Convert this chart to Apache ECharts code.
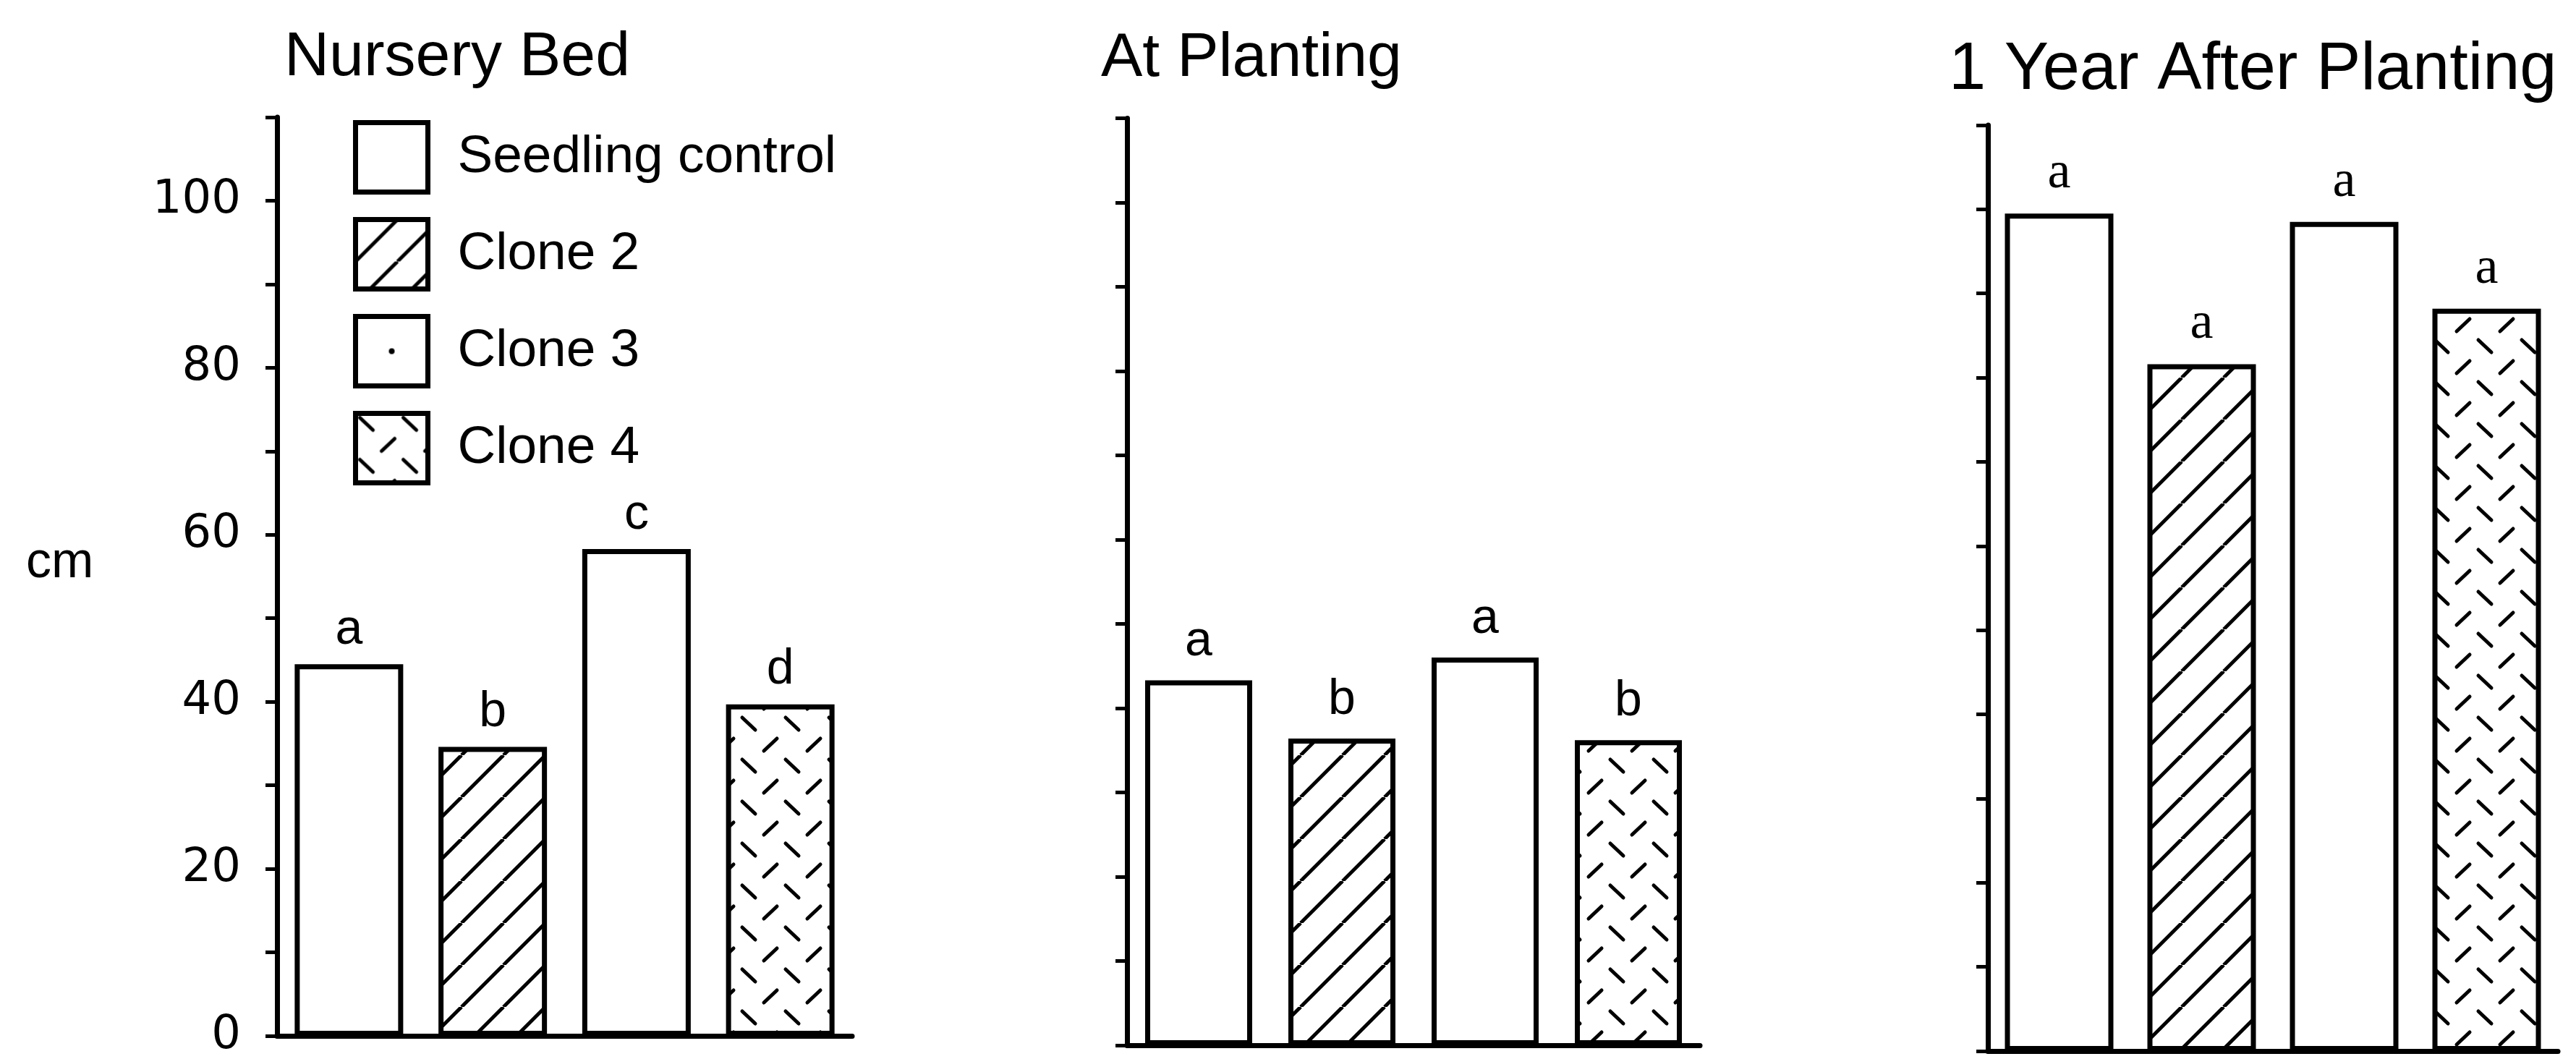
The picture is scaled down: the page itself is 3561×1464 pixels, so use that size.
<!DOCTYPE html>
<html>
<head>
<meta charset="utf-8">
<script src="https://cdn.jsdelivr.net/npm/echarts@6/dist/echarts.min.js"></script>
<style>
  html, body { margin: 0; padding: 0; background: #fff; }
  #chart { width: 3561px; height: 1464px; }
</style>
</head>
<body>
<div id="chart"></div>
<script>
// ---------------- data ----------------
const categories = ['Seedling control', 'Clone 2', 'Clone 3', 'Clone 4'];
const panelTitles = ['Nursery Bed', 'At Planting', '1 Year After Planting'];
const nurseryBed = [44.5, 34.6, 58.3, 39.7];
const atPlanting = [43.3, 36.4, 46.0, 36.2];
const oneYearAfter = [99.5, 81.6, 98.5, 88.2];
const lettersNursery = ['a', 'b', 'c', 'd'];
const lettersPlanting = ['a', 'b', 'a', 'b'];
const lettersYear = ['a', 'a', 'a', 'a'];
const yTickLabels = ['0', '20', '40', '60', '80', '100'];
const yAxisName = 'cm';
const yMin = 0, yMax = 110, yStep = 10;

// ---------------- patterns ----------------
function makeCanvas(w, h) {
  const c = document.createElement('canvas');
  c.width = w; c.height = h;
  const ctx = c.getContext('2d');
  ctx.fillStyle = '#fff';
  ctx.fillRect(0, 0, w, h);
  ctx.strokeStyle = '#000';
  ctx.fillStyle = '#000';
  return [c, ctx];
}
function hatchTile() {
  const s = 58;
  const [c, ctx] = makeCanvas(s, s);
  ctx.lineWidth = 5;
  for (const k of [-1, 0, 1]) {
    ctx.beginPath();
    ctx.moveTo(k * s, s);
    ctx.lineTo(k * s + s, 0);
    ctx.stroke();
  }
  return c;
}
function dashTile() {
  const w = 60, h = 58;
  const [c, ctx] = makeCanvas(w, h);
  ctx.lineWidth = 5;
  ctx.lineCap = 'round';
  ctx.beginPath();
  ctx.moveTo(6, 6); ctx.lineTo(24, 23);
  ctx.stroke();
  ctx.beginPath();
  ctx.moveTo(36, 52); ctx.lineTo(54, 35);
  ctx.stroke();
  return c;
}
function dotTile() {
  const [c, ctx] = makeCanvas(100, 96);
  ctx.beginPath();
  ctx.arc(50, 48, 4, 0, Math.PI * 2);
  ctx.fill();
  return c;
}
const fills = [
  '#ffffff',
  { image: hatchTile(), repeat: 'repeat' },
  '#ffffff',
  { image: dashTile(), repeat: 'repeat' }
];

// ---------------- layout ----------------
const grids = [
  { left: 383, right: 3561 - 1178, top: 162, bottom: 1464 - 1440 },
  { left: 1558, right: 3561 - 2350, top: 163.5, bottom: 1464 - 1445 },
  { left: 2748, right: 3561 - 3536, top: 173, bottom: 1464 - 1453 }
];
const barWidths = [150, 148, 150];
const panelValues = [nurseryBed, atPlanting, oneYearAfter];
const panelLetters = [lettersNursery, lettersPlanting, lettersYear];
const letterFonts = [
  { fontFamily: 'Liberation Sans', fontSize: 68, distance: 13 },
  { fontFamily: 'Liberation Sans', fontSize: 68, distance: 19 },
  { fontFamily: 'Liberation Serif', fontSize: 72, distance: 19 }
];
const titleDefs = [
  { left: 393, top: 37, fontSize: 86 },
  { left: 1522, top: 38, fontSize: 86 },
  { left: 2694, top: 52, fontSize: 92 }
];

const AXIS_W = 7;
const xAxes = [], yAxes = [], series = [], titles = [];

grids.forEach((g, gi) => {
  xAxes.push({
    type: 'category', gridIndex: gi, data: categories,
    axisLine: { show: true, lineStyle: { color: '#000', width: AXIS_W } },
    axisTick: { show: false }, axisLabel: { show: false }, splitLine: { show: false }
  });
  yAxes.push({
    type: 'value', gridIndex: gi, min: yMin, max: yMax, interval: yStep,
    axisLine: { show: true, lineStyle: { color: '#000', width: AXIS_W } },
    axisTick: { show: true, length: 16, lineStyle: { color: '#000', width: 5 } },
    splitLine: { show: false },
    axisLabel: {
      show: gi === 0, margin: 50, color: '#000',
      fontFamily: 'DejaVu Sans', fontSize: 64,
      formatter: v => (yTickLabels.indexOf(String(v)) >= 0 ? String(v) : '')
    }
  });
  categories.forEach((name, k) => {
    const vals = panelValues[gi];
    const lf = letterFonts[gi];
    series.push({
      type: 'bar', name: name, xAxisIndex: gi, yAxisIndex: gi,
      stack: 'panel' + gi, barWidth: barWidths[gi],
      data: categories.map((c, i) => (i === k ? vals[i] : '-')),
      itemStyle: { color: fills[k], borderColor: '#000', borderWidth: 7 },
      label: {
        show: true, position: 'top', distance: lf.distance,
        fontFamily: lf.fontFamily, fontSize: lf.fontSize, color: '#000',
        formatter: p => panelLetters[gi][p.dataIndex]
      },
      emphasis: { disabled: true }
    });
  });
  const t = titleDefs[gi];
  titles.push({
    text: panelTitles[gi], left: t.left, top: t.top, padding: 0,
    textStyle: { fontFamily: 'Liberation Sans', fontWeight: 'normal', fontSize: t.fontSize, color: '#000', lineHeight: t.fontSize }
  });
});
titles.push({
  text: yAxisName, left: 36, top: 744, padding: 0,
  textStyle: { fontFamily: 'Liberation Sans', fontWeight: 'normal', fontSize: 70, color: '#000', lineHeight: 70 }
});

const chart = echarts.init(document.getElementById('chart'), null, { renderer: 'canvas' });
chart.setOption({
  backgroundColor: '#fff',
  animation: false,
  title: titles,
  grid: grids,
  xAxis: xAxes,
  yAxis: yAxes,
  legend: {
    orient: 'vertical', left: 488, top: 166, padding: 0,
    itemWidth: 100, itemHeight: 96, itemGap: 31, icon: 'rect',
    selectedMode: false,
    itemStyle: { borderWidth: 7, borderColor: '#000' },
    textStyle: { fontFamily: 'Liberation Sans', fontSize: 73, color: '#000', padding: [0, 0, 0, 36] },
    data: [
      categories[0],
      categories[1],
      { name: categories[2], itemStyle: { color: { image: dotTile(), repeat: 'repeat' } } },
      categories[3]
    ]
  },
  series: series
});
</script>
</body>
</html>
